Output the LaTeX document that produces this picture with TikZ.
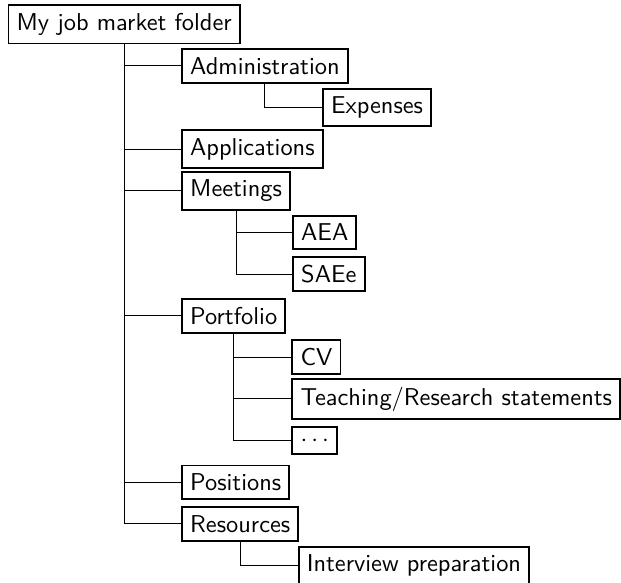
\documentclass[tikz,border=0pt]{standalone}
\usepackage{tikz}

\begin{document}
\begin{tikzpicture}[font=\sffamily,
        folder/.style={draw, thick, anchor=west}]
            \useasboundingbox (0, 0) rectangle (8.95, 8.40);

            \node[draw, thick] (root) at (1.79, 8.05) {My job market folder};

            \node[folder] (admin) at (2.61, 7.45) {Administration};
            \node[folder] (expenses) at (4.64, 6.85) {Expenses};
            \node[folder] (applications) at (2.61, 6.25) {Applications};
            \node[folder] (meetings) at (2.61, 5.65) {Meetings};
            \node[folder] (aea) at (4.21, 5.05) {AEA};
            \node[folder] (saee) at (4.21, 4.45) {SAEe};
            \node[folder] (portfolio) at (2.61, 3.85) {Portfolio};
            \node[folder] (cv) at (4.20, 3.25) {CV};
            \node[folder] (statements) at (4.20, 2.65) {Teaching/Research statements};
            \node[folder] (more) at (4.20, 2.05) {$\cdots$};
            \node[folder] (positions) at (2.61, 1.45) {Positions};
            \node[folder] (resources) at (2.61, 0.85) {Resources};
            \node[folder] (interview) at (4.29, 0.25) {Interview preparation};

            \draw (root.south) |- (admin.west);
            \draw (root.south) |- (applications.west);
            \draw (root.south) |- (meetings.west);
            \draw (root.south) |- (portfolio.west);
            \draw (root.south) |- (positions.west);
            \draw (root.south) |- (resources.west);

            \draw (admin.south) |- (expenses.west);
            \draw (meetings.south) |- (aea.west);
            \draw (meetings.south) |- (saee.west);
            \draw (portfolio.south) |- (cv.west);
            \draw (portfolio.south) |- (statements.west);
            \draw (portfolio.south) |- (more.west);
            \draw (resources.south) |- (interview.west);
        \end{tikzpicture}
\end{document}
